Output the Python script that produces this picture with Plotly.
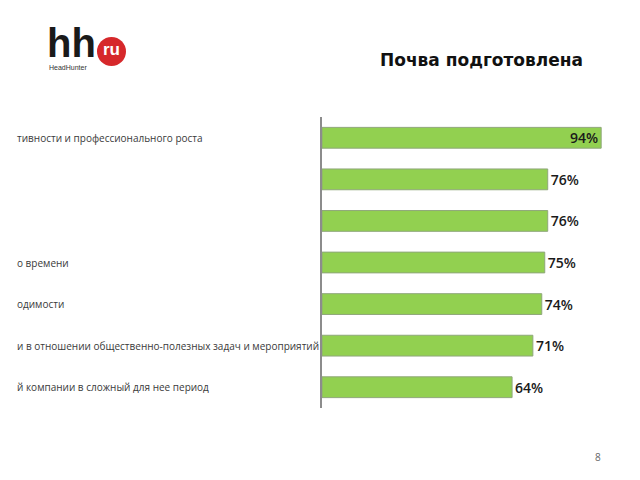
import plotly.graph_objects as go

# Data
labels = [
    "тивности и профессионального роста",
    "",
    "",
    "о времени",
    "одимости",
    "и в отношении общественно-полезных задач и мероприятий",
    "й компании в сложный для нее период",
]
values = [94, 76, 76, 75, 74, 71, 64]
value_text = [f"{v}%" for v in values]
title_text = "Почва подготовлена"
page_number = "8"

positions = list(range(len(values)))
text_pos = ["inside" if v >= 90 else "outside" for v in values]

fig = go.Figure()
fig.add_trace(go.Bar(
    x=values,
    y=positions,
    orientation="h",
    width=0.5,
    marker=dict(color="#92D050", line=dict(color="#8fa77a", width=1)),
    text=value_text,
    textposition=text_pos,
    insidetextanchor="end",
    constraintext="none",
    textfont=dict(family="Open Sans", size=14, color="#1a1a1a", weight=600),
    cliponaxis=False,
    hoverinfo="skip",
))

L, R = 322, 21
plot_w = 640 - L - R


def px(x):
    return (x - L) / plot_w


def py(y):
    return (480 - 72 - y) / (480 - 117 - 72)


for i, lab in enumerate(labels):
    if lab:
        fig.add_annotation(
            x=px(15), xref="paper", y=positions[i], yref="y",
            text=lab, showarrow=False, xanchor="left", yanchor="middle",
            font=dict(family="Open Sans", size=10, color="#3a3a3a"),
        )

# Title
fig.add_annotation(
    x=px(481), y=py(60), xref="paper", yref="paper", text=title_text, showarrow=False,
    font=dict(family="DejaVu Sans", size=17, color="#111111", weight="bold"),
    xanchor="center", yanchor="middle",
)

fig.update_layout(
    width=640, height=480,
    margin=dict(l=L, r=R, t=117, b=72),
    paper_bgcolor="white", plot_bgcolor="white",
    showlegend=False,
    xaxis=dict(range=[0, 100], visible=False, fixedrange=True),
    yaxis=dict(range=[6.5, -0.5], autorange=False, showticklabels=False,
               showgrid=False, zeroline=False, showline=True,
               linecolor="#8c8c8c", linewidth=2, ticks=""),
)

# Logo
fig.add_annotation(x=px(46), y=py(43), xref="paper", yref="paper", text="<b>hh</b>",
                   showarrow=False, xanchor="left", yanchor="middle", borderpad=0,
                   font=dict(family="Liberation Sans", size=40, color="#1a1a1a"))
fig.add_shape(type="circle", xref="paper", yref="paper",
              x0=px(97), x1=px(126), y0=py(37), y1=py(66),
              fillcolor="#d6282b", line=dict(width=0))
fig.add_annotation(x=px(111.5), y=py(50), xref="paper", yref="paper", text="<b>ru</b>",
                   showarrow=False, xanchor="center", yanchor="middle",
                   font=dict(family="Liberation Sans", size=17, color="white"))
fig.add_annotation(x=px(48), y=py(68), xref="paper", yref="paper", text="HeadHunter",
                   showarrow=False, xanchor="left", yanchor="middle", borderpad=0,
                   font=dict(family="Liberation Sans", size=7, color="#333333"))

# Page number
fig.add_annotation(x=px(598), y=py(457), xref="paper", yref="paper", text=page_number,
                   showarrow=False, xanchor="center", yanchor="middle",
                   font=dict(family="Open Sans", size=10, color="#666666"))

fig.write_html("out.html")
